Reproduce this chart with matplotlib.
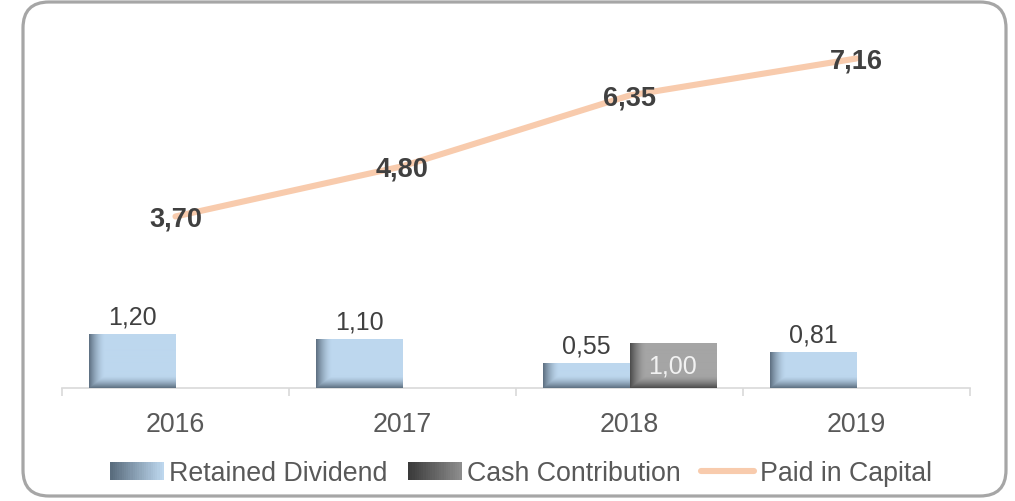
import numpy as np
import matplotlib
matplotlib.use("Agg")
import matplotlib.pyplot as plt
from matplotlib.patches import FancyBboxPatch, Rectangle
from matplotlib.lines import Line2D
from matplotlib.legend_handler import HandlerBase
from matplotlib.colors import to_rgb

plt.rcParams['font.family'] = ['Liberation Sans', 'DejaVu Sans']

# data
years = ['2016', '2017', '2018', '2019']
retained = [1.20, 1.10, 0.55, 0.81]
cash = [None, None, 1.00, None]
paid_in = [3.70, 4.80, 6.35, 7.16]

BLUE = '#BDD7EE'
BLUE_DARK = '#4A5B6B'
GREY = '#A5A5A5'
GREY_DARK = '#3A3A3A'
PEACH = '#F8CBAD'
TXT = '#404040'

W, H = 1015, 502
fig = plt.figure(figsize=(W / 100, H / 100), dpi=100)
ax = fig.add_axes([62 / W, (H - 389) / H, (970 - 62) / W, (389 - 31) / H])
ax2 = ax.twinx()

x = np.arange(len(years))
bw = 0.383


def shade_bar(ax, patch, base, dark):
    # Excel-like inner shading: dark at the left and bottom edges
    x0, w, h = patch.get_x(), patch.get_width(), patch.get_height()
    p0 = ax.transData.transform((x0, 0))
    p1 = ax.transData.transform((x0 + w, h))
    wpx = max(int(round(p1[0] - p0[0])), 2)
    hpx = max(int(round(p1[1] - p0[1])), 2)
    fx = np.arange(wpx) + 0.5
    fy = np.arange(hpx)[::-1] + 0.5  # row 0 is top
    a_left = np.clip(1 - fx / 16.0, 0, 1) ** 1.6
    a_bot = np.clip(1 - fy / 12.0, 0, 1) ** 1.5
    a = np.maximum(a_left[None, :], a_bot[:, None]) * 0.85
    b = np.array(to_rgb(base))
    d = np.array(to_rgb(dark))
    img = b[None, None, :] * (1 - a[..., None]) + d[None, None, :] * a[..., None]
    ax.imshow(img, extent=(x0, x0 + w, 0, h), aspect='auto', zorder=3,
              interpolation='bilinear')


ax.set_xlim(-0.5, 3.5)
ax.set_ylim(0, 358 / 44.2)
ax2.set_ylim(-2.6 / 46.2, (390.6 - 31) / 46.2)

bars_r = ax.bar(x - bw / 2, retained, bw, color=BLUE, zorder=2)
cash_x = [xi + bw / 2 for xi, c in zip(x, cash) if c is not None]
cash_v = [c for c in cash if c is not None]
bars_c = ax.bar(cash_x, cash_v, bw, color=GREY, zorder=2)

for p in bars_r:
    shade_bar(ax, p, BLUE, BLUE_DARK)
for p in bars_c:
    shade_bar(ax, p, GREY, GREY_DARK)

ax.set_xlim(-0.5, 3.5)
ax.set_ylim(0, 358 / 44.2)

for xi, v in zip(x, retained):
    ax.annotate(f'{v:.2f}'.replace('.', ','), (xi - bw / 2, v), xytext=(0, 18),
                textcoords='offset pixels', ha='center', va='center',
                fontsize=18, color=TXT, zorder=5)
for xi, v in zip(cash_x, cash_v):
    ax.text(xi, v / 2, f'{v:.2f}'.replace('.', ','), ha='center', va='center',
            fontsize=18, color='#F2F2F2', zorder=5)

ax2.plot(x, paid_in, color=PEACH, lw=4.4, solid_capstyle='round', zorder=4)
for xi, v in zip(x, paid_in):
    ax2.annotate(f'{v:.2f}'.replace('.', ','), (xi, v), xytext=(0, -2),
                 textcoords='offset pixels', ha='center', va='center',
                 fontsize=19.5, fontweight='bold', color=TXT, zorder=5)

# axes styling
for a_ in (ax, ax2):
    for s in ('top', 'right', 'left'):
        a_.spines[s].set_visible(False)
    a_.set_yticks([])
ax2.spines['bottom'].set_visible(False)
ax.spines['bottom'].set_color('#D9D9D9')
ax.spines['bottom'].set_linewidth(1.2)
ax.set_xticks(np.arange(-0.5, 4.0, 1.0))
ax.set_xticklabels([])
ax.tick_params(axis='x', which='major', length=6, color='#D9D9D9', width=1.2)
ax.set_xticks(x, minor=True)
ax.set_xticklabels(years, minor=True)
ax.tick_params(axis='x', which='minor', length=0, pad=16.5, labelsize=19.3,
               labelcolor='#595959')
ax.patch.set_visible(False)
ax2.patch.set_visible(False)


class GradientHandler(HandlerBase):
    def __init__(self, base, dark):
        super().__init__()
        self.base = np.array(to_rgb(base))
        self.dark = np.array(to_rgb(dark))

    def create_artists(self, legend, orig_handle, xdescent, ydescent, width,
                       height, fontsize, trans):
        arts = []
        n = 24
        hh = height * 0.95
        y0 = -ydescent + (height - hh) / 2
        for i in range(n):
            t = i / (n - 1)
            c = self.dark * (1 - t) + self.base * t
            arts.append(Rectangle((-xdescent + width * i / n, y0), width / n + 0.3,
                                  hh, facecolor=c, edgecolor='none',
                                  transform=trans))
        return arts


h_r = Rectangle((0, 0), 1, 1)
h_c = Rectangle((0, 0), 1, 1)
h_p = Line2D([], [], color=PEACH, lw=4.4, solid_capstyle='round')
leg = fig.legend([h_r, h_c, h_p],
                 ['Retained Dividend', 'Cash Contribution', 'Paid in Capital'],
                 handler_map={h_r: GradientHandler(BLUE, '#5A6D7E'),
                              h_c: GradientHandler('#8C8C8C', GREY_DARK)},
                 loc='center', bbox_to_anchor=(521 / W, 28 / H), ncol=3,
                 frameon=False, fontsize=19.3, handlelength=2.0,
                 handletextpad=0.2, columnspacing=0.75, borderaxespad=0,
                 borderpad=0)
for t in leg.get_texts():
    t.set_color('#595959')

# rounded border
ov = fig.add_axes([0, 0, 1, 1], zorder=-1)
ov.set_xlim(0, W)
ov.set_ylim(H, 0)
ov.axis('off')
ov.add_patch(FancyBboxPatch((23, 3), 983, 494,
                            boxstyle='round,pad=0,rounding_size=26',
                            facecolor='white', edgecolor='#A6A6A6', lw=2.3))

fig.savefig('out.png', dpi=100)
